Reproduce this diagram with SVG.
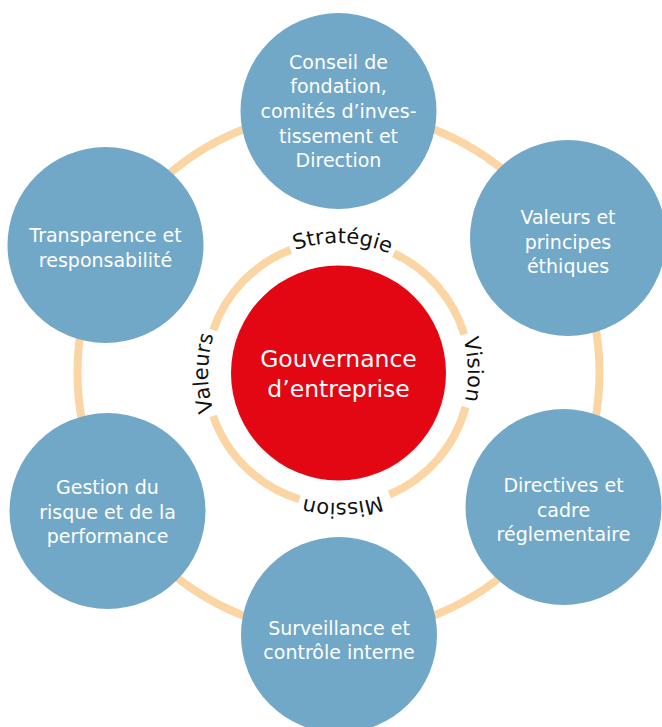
<svg xmlns="http://www.w3.org/2000/svg" xmlns:xlink="http://www.w3.org/1999/xlink" width="662" height="727" viewBox="0 0 662 727">
<style>
.ring{fill:none;stroke:#FBD6A4;stroke-width:8}
.node{fill:#72A8C7}
.nt{fill:#ffffff;font-family:"DejaVu Sans","Verdana",sans-serif;font-size:19px;text-anchor:middle}
.ct{fill:#ffffff;font-family:"DejaVu Sans","Verdana",sans-serif;font-size:23.5px;text-anchor:middle}
.lab{fill:#111111;font-family:"DejaVu Sans","Verdana",sans-serif;font-size:21px;text-anchor:middle}
</style>
<defs>
<path id="tp" d="M 246.08 464.92 A 130 130 0 0 1 246.08 281.08 A 130 130 0 0 1 429.92 281.08 A 130 130 0 0 1 429.92 464.92 A 130 130 0 0 1 246.08 464.92"/>
</defs>
<rect width="662" height="727" fill="#ffffff"/>
<g id="connectors">
<circle class="ring" cx="338.5" cy="372.5" r="261"/>
<path class="ring" d="M 393.78 253.37 A 132 132 0 0 1 464.23 334.41"/>
<path class="ring" d="M 465.5 407.16 A 132 132 0 0 1 389.57 494.51"/>
<path class="ring" d="M 299.41 499.23 A 132 132 0 0 1 213.19 415.98"/>
<path class="ring" d="M 213.19 330.02 A 132 132 0 0 1 290.69 249.76"/>
</g>
<g id="ring-labels">
<text class="lab"><textPath xlink:href="#tp" startOffset="12.5%">Valeurs</textPath></text>
<text class="lab"><textPath xlink:href="#tp" startOffset="38.06%">Stratégie</textPath></text>
<text class="lab"><textPath xlink:href="#tp" startOffset="62.08%">Vision</textPath></text>
<text class="lab"><textPath xlink:href="#tp" startOffset="86.94%">Mission</textPath></text>
</g>
<g id="center">
<circle cx="338.5" cy="373" r="107.5" fill="#E30613"/>
<text class="ct" x="338.5" y="366.5">Gouvernance</text>
<text class="ct" x="338.5" y="396.5">d’entreprise</text>
</g>
<g id="n-conseil">
<circle class="node" cx="338.5" cy="111" r="98"/>
<text class="nt" x="338.5" y="69">Conseil de</text>
<text class="nt" x="338.5" y="93">fondation,</text>
<text class="nt" x="338.5" y="117.5">comités d’inves-</text>
<text class="nt" x="338.5" y="142.5">tissement et</text>
<text class="nt" x="338.5" y="167">Direction</text>
</g>
<g id="n-valeurs">
<circle class="node" cx="568" cy="238" r="98"/>
<text class="nt" x="568" y="224">Valeurs et</text>
<text class="nt" x="568" y="248.5">principes</text>
<text class="nt" x="568" y="273">éthiques</text>
</g>
<g id="n-directives">
<circle class="node" cx="563.5" cy="507" r="98"/>
<text class="nt" x="563.5" y="492">Directives et</text>
<text class="nt" x="563.5" y="516.5">cadre</text>
<text class="nt" x="563.5" y="541">réglementaire</text>
</g>
<g id="n-surveillance">
<circle class="node" cx="339" cy="635" r="98"/>
<text class="nt" x="339" y="635">Surveillance et</text>
<text class="nt" x="339" y="659">contrôle interne</text>
</g>
<g id="n-gestion">
<circle class="node" cx="107.5" cy="511" r="98"/>
<text class="nt" x="107.5" y="494">Gestion du</text>
<text class="nt" x="107.5" y="518.5">risque et de la</text>
<text class="nt" x="107.5" y="543">performance</text>
</g>
<g id="n-transparence">
<circle class="node" cx="105.5" cy="245" r="98"/>
<text class="nt" x="105.5" y="242">Transparence et</text>
<text class="nt" x="105.5" y="266.5">responsabilité</text>
</g>
</svg>
